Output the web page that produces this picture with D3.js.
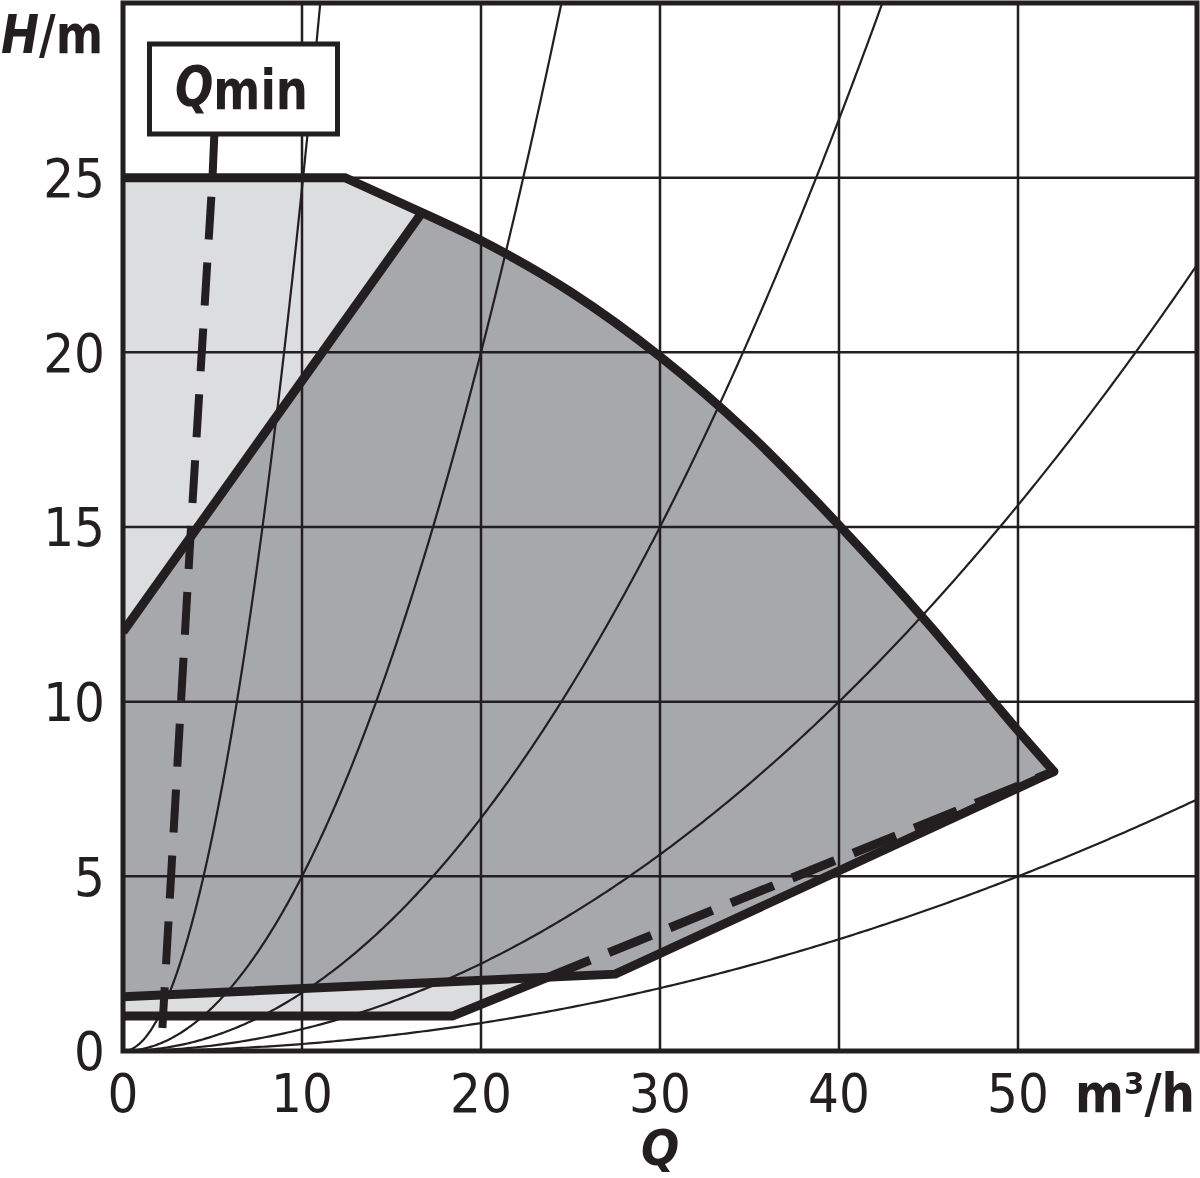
<!DOCTYPE html>
<html>
<head>
<meta charset="utf-8">
<script src="https://cdn.jsdelivr.net/npm/d3@7"></script>
<style>
  html, body { margin: 0; padding: 0; background: #fff; }
  svg { display: block; }
  text { font-family: "DejaVu Sans Condensed", "DejaVu Sans", sans-serif; font-stretch: condensed; fill: #231f20; }
</style>
</head>
<body>
<svg id="chart" width="1200" height="1178"></svg>
<script>
// ---- data ----
const xTicks = [0, 10, 20, 30, 40, 50];
const yTicks = [0, 5, 10, 15, 20, 25];
const xGrid = [10, 20, 30, 40, 50];
const yGrid = [5, 10, 15, 20, 25];
const systemK = [0.247, 0.05, 0.01667, 0.00625, 0.002];
// max curve: flat top, short straight, then curve
const maxTop = [[0, 25], [12.4, 25], [16.7, 24]];
const maxCurve = [[16.7, 24.0], [20, 23.2], [25, 21.73], [30, 19.88], [35, 17.66], [40, 15.05], [45, 12.22], [50, 9.17], [52, 8]];
const leftLine = [[0, 12], [16.7, 24]];
const upperLower = [[0, 1.55], [27.5, 2.2], [52, 8]];
const lowerLower = [[0, 1.0], [18.4, 1.0], [26.1, 2.6]];
const lowerDashed = [[26.1, 2.6], [52, 8]];
const qminConnector = [[5.1, 26.2], [5.0, 25.0]];
const qminDashed = [[5.0, 25.0], [3.8, 15], [2.2, 0.66]];
const lightTop = [[0, 12], [0, 25], [12.4, 25], [16.7, 24]];
const lightBottom = [[0, 1.0], [18.4, 1.0], [23.75, 2.11], [0, 1.55]];

// ---- setup ----
const ink = "#231f20", darkFill = "#a7a8ab", lightFill = "#dcdddf";
const svg = d3.select("#chart");
const x = d3.scaleLinear().domain([0, 60]).range([123, 1197]);
const y = d3.scaleLinear().domain([0, 30]).range([1051, 3]);

const lin = d3.line().x(d => x(d[0])).y(d => y(d[1]));
const smooth = d3.line().x(d => x(d[0])).y(d => y(d[1])).curve(d3.curveMonotoneX);

svg.append("defs").append("clipPath").attr("id", "plot")
  .append("rect").attr("x", x(0)).attr("y", y(30)).attr("width", x(60) - x(0)).attr("height", y(0) - y(30));

const g = svg.append("g").attr("clip-path", "url(#plot)");

// fills
g.append("path").attr("d", lin(lightTop) + "Z").attr("fill", lightFill);
g.append("path").attr("d", lin(lightBottom) + "Z").attr("fill", lightFill);
const curveStr = smooth(maxCurve).replace(/^M/, "L");
const darkD = "M" + x(0) + "," + y(1.55) + "L" + x(0) + "," + y(12) + curveStr +
  "L" + x(upperLower[1][0]) + "," + y(upperLower[1][1]) + "Z";
g.append("path").attr("d", darkD).attr("fill", darkFill);

// grid
g.selectAll("line.vg").data(xGrid).join("line")
  .attr("x1", d => x(d)).attr("x2", d => x(d)).attr("y1", y(0)).attr("y2", y(30))
  .attr("stroke", ink).attr("stroke-width", 2.5);
g.selectAll("line.hg").data(yGrid).join("line")
  .attr("y1", d => y(d)).attr("y2", d => y(d)).attr("x1", x(0)).attr("x2", x(60))
  .attr("stroke", ink).attr("stroke-width", 2.5);

// system curves
systemK.forEach(k => {
  const qMax = Math.min(60, Math.sqrt(31 / k));
  const pts = d3.range(0, qMax + 0.01, qMax / 300).map(q => [q, k * q * q]);
  g.append("path").attr("d", lin(pts)).attr("fill", "none").attr("stroke", ink).attr("stroke-width", 2.2);
});

// thick lines
const thick = (d) => g.append("path").attr("d", d).attr("fill", "none").attr("stroke", ink)
    .attr("stroke-width", 9).attr("stroke-linejoin", "miter");
thick(lin(maxTop) + curveStr).attr("stroke-linecap", "round");
thick(lin(leftLine));
thick(lin(upperLower)).attr("stroke-linecap", "round");
thick(lin(lowerLower));
thick(lin(lowerDashed)).attr("stroke-dasharray", "46,20").attr("stroke-dashoffset", 46);
// Qmin line
svg.append("path").attr("d", lin(qminConnector)).attr("fill", "none").attr("stroke", ink).attr("stroke-width", 8);
g.append("path").attr("d", lin(qminDashed)).attr("fill", "none").attr("stroke", ink).attr("stroke-width", 8)
  .attr("stroke-dasharray", "43,23").attr("stroke-dashoffset", 47);

// frame
svg.append("rect").attr("x", x(0)).attr("y", y(30)).attr("width", x(60) - x(0)).attr("height", y(0) - y(30))
  .attr("fill", "none").attr("stroke", ink).attr("stroke-width", 5);

// Qmin box
svg.append("rect").attr("x", 149.5).attr("y", 44).attr("width", 188).attr("height", 90)
  .attr("fill", "#fff").attr("stroke", ink).attr("stroke-width", 5);
const qt = svg.append("text").attr("x", 175).attr("y", 109)
  .attr("font-size", 55).attr("font-weight", "bold")
  .attr("textLength", 133).attr("lengthAdjust", "spacingAndGlyphs");
qt.append("tspan").attr("font-style", "italic").attr("dy", -4).text("Q");
qt.append("tspan").attr("dy", 4).text("min");

// tick labels
svg.selectAll("text.xt").data(xTicks).join("text").attr("class", "xt")
  .attr("x", d => x(d)).attr("y", 1112).attr("text-anchor", "middle").attr("font-size", 54)
  .text(d => d);
svg.selectAll("text.yt").data(yTicks).join("text").attr("class", "yt")
  .attr("x", 105).attr("y", d => y(d)).attr("dy", "0.36em").attr("text-anchor", "end").attr("font-size", 54)
  .text(d => d);

// axis titles
const ht = svg.append("text").attr("x", 1).attr("y", 53)
  .attr("font-size", 54).attr("font-weight", "bold")
  .attr("textLength", 102).attr("lengthAdjust", "spacingAndGlyphs");
ht.append("tspan").attr("font-style", "italic").text("H");
ht.append("tspan").text("/m");
svg.append("text").attr("x", 1075).attr("y", 1112)
  .attr("font-size", 54).attr("font-weight", "bold")
  .attr("textLength", 120).attr("lengthAdjust", "spacingAndGlyphs").text("m³/h");
svg.append("text").attr("x", 660).attr("y", 1165).attr("text-anchor", "middle")
  .attr("font-size", 50).attr("font-weight", "bold").attr("font-style", "italic").text("Q");
</script>
</body>
</html>
